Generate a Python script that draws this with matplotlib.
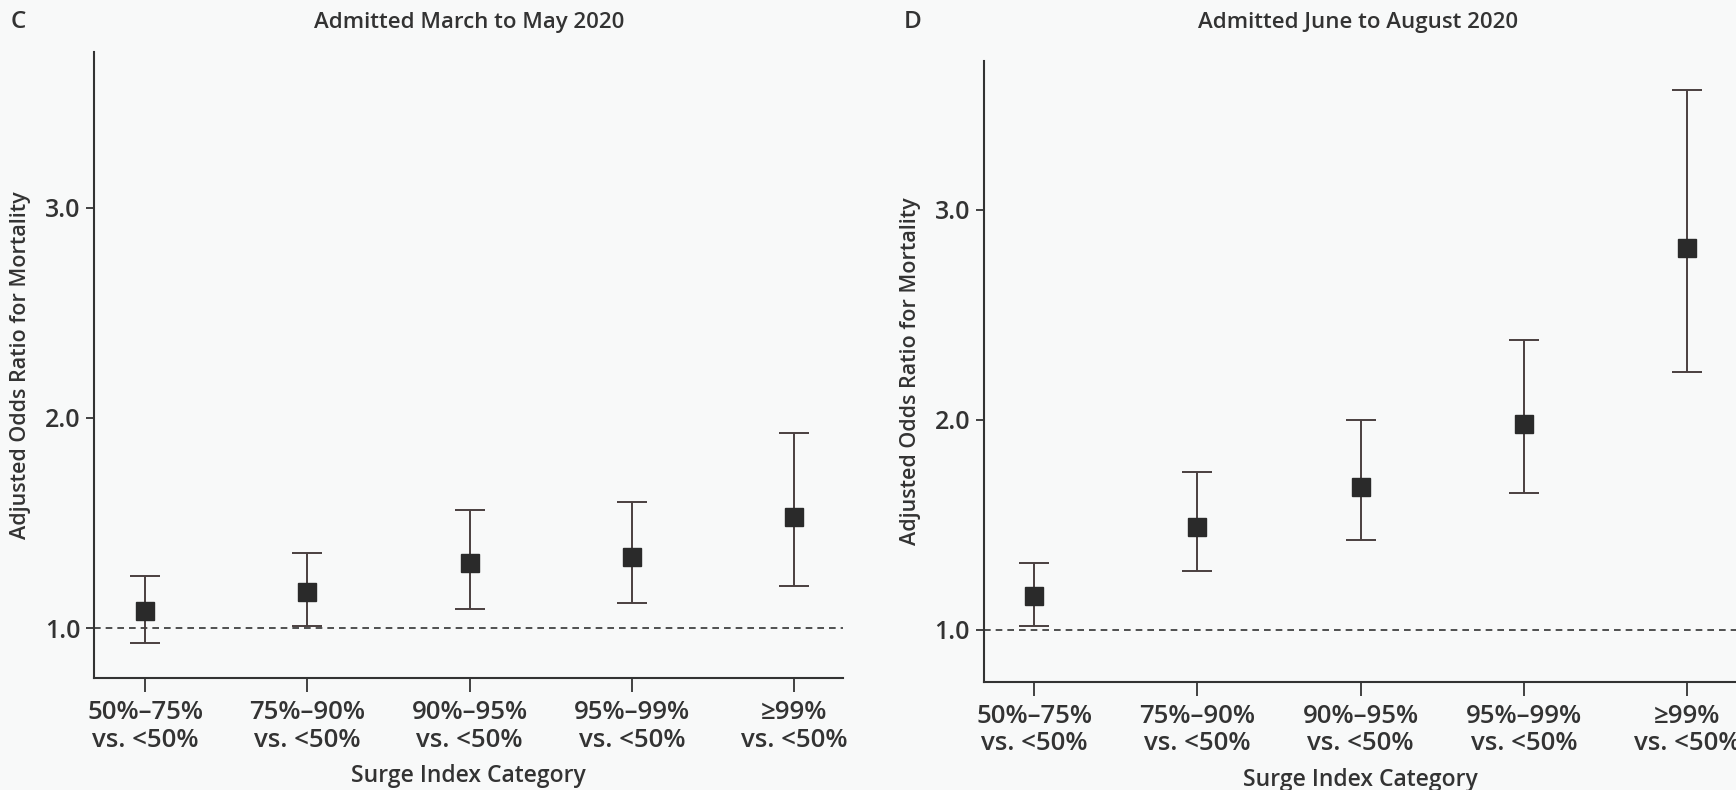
import matplotlib
matplotlib.use("Agg")
import matplotlib.pyplot as plt
from matplotlib import font_manager as fm

categories = ["50%\u201375%\nvs. <50%", "75%\u201390%\nvs. <50%", "90%\u201395%\nvs. <50%",
              "95%\u201399%\nvs. <50%", "\u226599%\nvs. <50%"]
# Panel C: Admitted March to May 2020
c_or = [1.08, 1.17, 1.31, 1.34, 1.53]
c_lo = [0.93, 1.01, 1.09, 1.12, 1.20]
c_hi = [1.25, 1.36, 1.56, 1.60, 1.93]
# Panel D: Admitted June to August 2020
d_or = [1.16, 1.49, 1.68, 1.98, 2.82]
d_lo = [1.02, 1.28, 1.43, 1.65, 2.23]
d_hi = [1.32, 1.75, 2.00, 2.38, 3.57]
yticks = [1.0, 2.0, 3.0]
ytick_labels = ["1.0", "2.0", "3.0"]

# pick a humanist sans family that actually has a semibold/bold face
weights = {}
for f in fm.fontManager.ttflist:
    w = f.weight if isinstance(f.weight, int) else {"bold": 700, "semibold": 600, "normal": 400, "regular": 400}.get(str(f.weight).lower(), 400)
    weights.setdefault(f.name, set()).add(w)
FAM = "DejaVu Sans"
WEIGHT = "bold"
for cand in ["Open Sans", "Noto Sans", "Lato"]:
    ws = weights.get(cand, set())
    if 600 in ws:
        FAM, WEIGHT = cand, 600
        break
    if 700 in ws:
        FAM, WEIGHT = cand, 700
        break
FONT = [FAM, "DejaVu Sans"]

BG = "#f8f9f9"
INK = "#333333"
ERR = "#4a3f3f"
MARK = "#2a2a2a"

fig = plt.figure(figsize=(17.36, 7.90), dpi=100, facecolor=BG)

def panel(rect, orv, lo, hi, ylim, xlim):
    ax = fig.add_axes(rect, facecolor=BG)
    x = list(range(1, len(orv) + 1))
    yerr = [[o - l for o, l in zip(orv, lo)], [h - o for o, h in zip(orv, hi)]]
    ax.axhline(1.0, color=INK, lw=1.2, ls=(0, (4, 3)), zorder=1)
    ax.errorbar(x, orv, yerr=yerr, fmt="s", color=MARK, ecolor=ERR, elinewidth=1.4,
                capsize=11, capthick=1.4, markersize=12.5, zorder=3)
    ax.set_xlim(*xlim)
    ax.set_ylim(*ylim)
    ax.set_xticks(x)
    ax.set_xticklabels(categories, fontfamily=FONT, fontweight=WEIGHT, fontsize=18.5,
                       color=INK, linespacing=1.13)
    ax.set_yticks(yticks)
    ax.set_yticklabels(ytick_labels, fontfamily=FONT, fontweight=WEIGHT, fontsize=18, color=INK)
    for s in ["top", "right"]:
        ax.spines[s].set_visible(False)
    for s in ["left", "bottom"]:
        ax.spines[s].set_color(INK)
        ax.spines[s].set_linewidth(1.5)
    ax.tick_params(axis="x", length=10, width=1.3, color=INK, pad=6)
    ax.tick_params(axis="y", length=6, width=1.3, color=INK, pad=4)
    ax.set_ylabel("Adjusted Odds Ratio for Mortality", fontfamily=FONT, fontweight=WEIGHT,
                  fontsize=15.5, color=INK, labelpad=10)
    ax.set_xlabel("Surge Index Category", fontfamily=FONT, fontweight=WEIGHT, fontsize=16.5,
                  color=INK, labelpad=8)
    return ax

axC = panel([0.0542, 0.1418, 0.4314, 0.792], c_or, c_lo, c_hi, (0.763, 3.74), (0.686, 5.30))
axD = panel([0.5668, 0.137, 0.4332, 0.786], d_or, d_lo, d_hi, (0.753, 3.71), (0.693, 5.30))

fig.text(0.0063, 0.972, "C", fontfamily=FONT, fontweight=WEIGHT, fontsize=17.5, color=INK, va="center")
fig.text(0.2703, 0.972, "Admitted March to May 2020", fontfamily=FONT, fontweight=WEIGHT,
         fontsize=16, color=INK, ha="center", va="center")
fig.text(0.5208, 0.972, "D", fontfamily=FONT, fontweight=WEIGHT, fontsize=17.5, color=INK, va="center")
fig.text(0.7822, 0.972, "Admitted June to August 2020", fontfamily=FONT, fontweight=WEIGHT,
         fontsize=16, color=INK, ha="center", va="center")

fig.savefig("out.png", dpi=100, facecolor=BG)
